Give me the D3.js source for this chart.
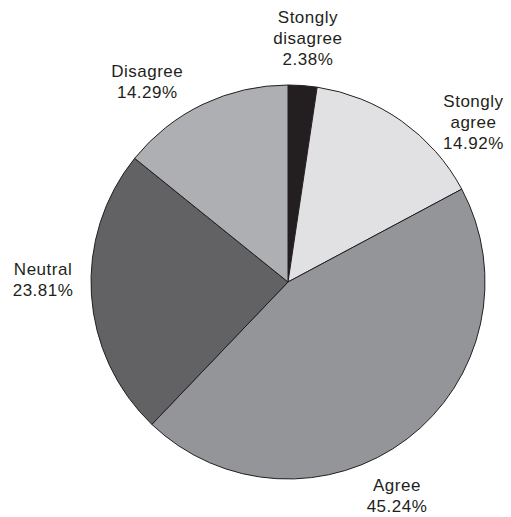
<!DOCTYPE html>
<html>
<head>
<meta charset="utf-8">
<script src="https://cdn.jsdelivr.net/npm/d3@7"></script>
<style>
  html, body { margin: 0; padding: 0; background: #fff; }
  svg { display: block; }
  text { font-family: "Liberation Sans", Arial, Helvetica, sans-serif; fill: #231f20; }
</style>
</head>
<body>
<svg id="chart" width="511" height="517"></svg>
<script>
// Survey responses, in clockwise order from 12 o'clock
const categories = ["Stongly disagree", "Stongly agree", "Agree", "Neutral", "Disagree"];
const labelLines = [["Stongly", "disagree"], ["Stongly", "agree"], ["Agree"], ["Neutral"], ["Disagree"]];
const percentages = [2.38, 14.92, 45.24, 23.81, 14.29];
const sliceColors = ["#231f20", "#e1e1e3", "#949598", "#626264", "#aeafb2"];

// Label placement: angular nudge (degrees) and radial offset (px) per label
const labelNudge = [0.4, 14, 10.2, 4.3, -9.5];
const labelRadialShift = [0, 0, -5, 0, 0];

const width = 511, height = 517;
const cx = 288, cy = 282, radius = 197, labelRadius = 245;
const lineHeight = 21;

const svg = d3.select("#chart");
const g = svg.append("g").attr("transform", `translate(${cx},${cy})`);

const slices = categories.map((c, i) => ({ name: c, value: percentages[i], i }));

const pie = d3.pie()
  .value(d => d.value)
  .sort(null);

const arc = d3.arc().innerRadius(0).outerRadius(radius);

const arcs = pie(slices);

g.selectAll("path.slice")
  .data(arcs)
  .join("path")
  .attr("class", "slice")
  .attr("d", arc)
  .attr("fill", d => sliceColors[d.data.i])
  .attr("stroke", "#231f20")
  .attr("stroke-width", 1)
  .attr("stroke-linejoin", "round");

const fmt = d3.format(".2f");

const labels = g.selectAll("text.label")
  .data(arcs)
  .join("text")
  .attr("class", "label")
  .attr("text-anchor", "middle")
  .attr("font-size", 17)
  .attr("letter-spacing", 0.5);

labels.each(function (d) {
  const mid = (d.startAngle + d.endAngle) / 2 + labelNudge[d.data.i] * Math.PI / 180;
  const r = labelRadius + labelRadialShift[d.data.i];
  const x = r * Math.sin(mid);
  const y = -r * Math.cos(mid);
  const lines = labelLines[d.data.i].concat([fmt(d.data.value) + "%"]);
  const n = lines.length;
  const t = d3.select(this);
  lines.forEach((line, k) => {
    t.append("tspan")
      .attr("x", x)
      .attr("y", y + (k - (n - 1) / 2) * lineHeight + 6)
      .text(line);
  });
});
</script>
</body>
</html>
